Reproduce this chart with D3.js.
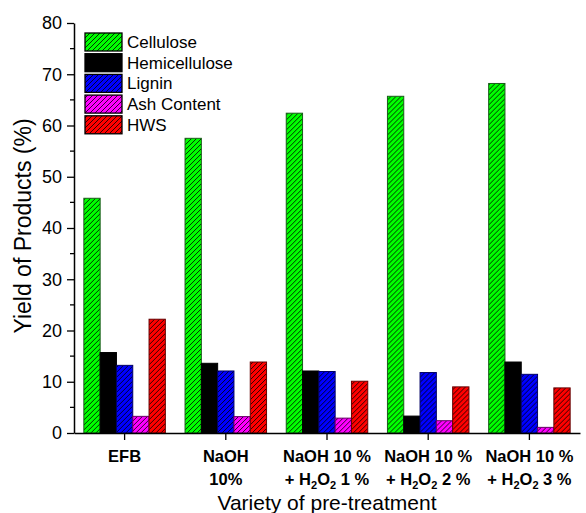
<!DOCTYPE html>
<html><head><meta charset="utf-8">
<script src="https://cdn.jsdelivr.net/npm/d3@7"></script>
<style>body{margin:0;background:#fff}svg{display:block;font-family:"Liberation Sans",Arial,sans-serif}</style>
</head><body>
<script>
const categories = ["EFB","NaOH 10%","NaOH 10 % + H2O2 1 %","NaOH 10 % + H2O2 2 %","NaOH 10 % + H2O2 3 %"];
const seriesNames = ["Cellulose","Hemicellulose","Lignin","Ash Content","HWS"];
const cellulose = [45.8, 57.5, 62.4, 65.7, 68.2];
const hemicellulose = [15.7, 13.6, 12.1, 3.3, 13.85];
const lignin = [13.2, 12.1, 12.0, 11.8, 11.45];
const ash = [3.25, 3.2, 2.9, 2.4, 1.1];
const hws = [22.2, 13.85, 10.1, 9.0, 8.8];
const yTicks = [0,10,20,30,40,50,60,70,80];
const colors = ["#00ff00","#000000","#0000ff","#ff00ff","#ff0000"];
const strokes = ["#1a5c1a","#000000","#000066","#660066","#660000"];
const hatched = [true,false,true,true,true];

const W=586,H=513;
const m={left:74,right:6,top:23,bottom:80};
const svg=d3.select("body").append("svg").attr("width",W).attr("height",H);
const defs=svg.append("defs");
colors.forEach((c,i)=>{
  const p=defs.append("pattern").attr("id","pat"+i).attr("patternUnits","userSpaceOnUse")
    .attr("width",5).attr("height",5);
  p.append("rect").attr("width",5).attr("height",5).attr("fill",c);
  if(hatched[i]){
    p.append("path").attr("d","M-1,6 L6,-1 M-2,2 L2,-2 M3,7 L7,3").attr("stroke","#000").attr("stroke-width",0.8);
  }
});
const series=[cellulose,hemicellulose,lignin,ash,hws];
const x=d3.scaleBand().domain(categories).range([m.left,W-m.right]).paddingInner(0).paddingOuter(0);
const groupW=81.5;
const x1=d3.scaleBand().domain(seriesNames).range([0,groupW]);
const y=d3.scaleLinear().domain([0,80]).range([H-m.bottom,m.top]);

// bars
categories.forEach((cat,ci)=>{
  const g=svg.append("g").attr("transform",`translate(${x(cat)+x.bandwidth()/2-groupW/2},0)`);
  seriesNames.forEach((s,si)=>{
    const v=series[si][ci];
    g.append("rect").attr("x",x1(s)).attr("y",y(v)).attr("width",x1.bandwidth()).attr("height",y(0)-y(v))
      .attr("fill",`url(#pat${si})`).attr("stroke",strokes[si]).attr("stroke-width",1);
  });
});

// y axis
const ya=svg.append("g").attr("transform",`translate(${m.left},0)`)
  .call(d3.axisLeft(y).tickValues(yTicks).tickSize(7).tickSizeOuter(0).tickPadding(5));
ya.selectAll("text").attr("font-size",18).attr("fill","#000").attr("font-family","Liberation Sans, Arial");
ya.selectAll("line").attr("stroke","#000").attr("stroke-width",1.3);
ya.select(".domain").attr("stroke","#000").attr("stroke-width",1.5);
const minor=d3.range(5,80,10);
ya.selectAll(".minor").data(minor).enter().append("line").attr("class","minor")
  .attr("x1",0).attr("x2",-4).attr("y1",d=>y(d)).attr("y2",d=>y(d)).attr("stroke","#000").attr("stroke-width",1.3);

// x axis
const xa=svg.append("g").attr("transform",`translate(0,${y(0)})`)
  .call(d3.axisBottom(x).tickSize(7).tickSizeOuter(0).tickFormat(""));
xa.selectAll("line").attr("stroke","#000").attr("stroke-width",1.3);
xa.select(".domain").attr("stroke","#000").attr("stroke-width",1.5);

// x tick labels (two lines, bold)
const lab=[["EFB",null],["NaOH","10%"],["NaOH 10 %","h1"],["NaOH 10 %","h2"],["NaOH 10 %","h3"]];
categories.forEach((cat,ci)=>{
  const cx=x(cat)+x.bandwidth()/2;
  svg.append("text").attr("x",cx).attr("y",462).attr("text-anchor","middle")
    .attr("font-size",16.5).attr("font-weight","bold").text(lab[ci][0]);
  const l2=lab[ci][1];
  if(l2){
    const t2=svg.append("text").attr("x",cx).attr("y",485).attr("text-anchor","middle")
      .attr("font-size",16.5).attr("font-weight","bold");
    if(l2==="10%"){t2.text("10%");}
    else{
      const n=l2.slice(1);
      t2.append("tspan").text("+ H");
      t2.append("tspan").attr("font-size",11).attr("dy",4).text("2");
      t2.append("tspan").attr("dy",-4).text("O");
      t2.append("tspan").attr("font-size",11).attr("dy",4).text("2");
      t2.append("tspan").attr("dy",-4).text(" "+n+" %");
    }
  }
});

// axis titles
svg.append("text").attr("x",327).attr("y",510).attr("text-anchor","middle")
  .attr("font-size",21).text("Variety of pre-treatment");
svg.append("text").attr("transform",`translate(31,226) rotate(-90)`).attr("text-anchor","middle")
  .attr("font-size",23).text("Yield of Products (%)");

// legend
const lg=svg.append("g").attr("transform","translate(85,33)");
seriesNames.forEach((s,i)=>{
  const gy=i*20.7;
  lg.append("rect").attr("x",0).attr("y",gy).attr("width",37).attr("height",18)
    .attr("fill",`url(#pat${i})`).attr("stroke","#000").attr("stroke-width",1.3);
  lg.append("text").attr("x",42).attr("y",gy+15).attr("font-size",17).text(s);
});
</script>
</body></html>
